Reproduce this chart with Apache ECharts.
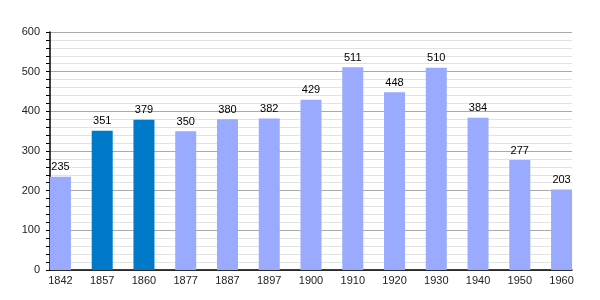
<!DOCTYPE html>
<html>
<head>
<meta charset="utf-8">
<script src="https://cdn.jsdelivr.net/npm/echarts@6/dist/echarts.min.js"></script>
<style>
  html, body { margin: 0; padding: 0; background: #fff; }
  #chart { width: 600px; height: 300px; }
</style>
</head>
<body>
<div id="chart"></div>
<script>
// population by census year
var years = ['1842', '1857', '1860', '1877', '1887', '1897', '1900', '1910', '1920', '1930', '1940', '1950', '1960'];
var population = [235, 351, 379, 350, 380, 382, 429, 511, 448, 510, 384, 277, 203];
// years drawn in the darker colour
var highlighted = ['1857', '1860'];
var yTicks = [0, 100, 200, 300, 400, 500, 600];

var LIGHT = '#99aaff';
var DARK = '#0079c9';

(function() {
    var myChart = echarts.init(document.getElementById('chart'));

    var barData = population.map(function(v, i) {
        return {
            value: [i, v],
            itemStyle: { color: highlighted.indexOf(years[i]) >= 0 ? DARK : LIGHT }
        };
    });

    var option = {
        animation: false,
        textStyle: { fontFamily: 'Liberation Sans' },
        grid: { left: 50, right: 28, top: 32, bottom: 30 },
        xAxis: {
            type: 'value',
            min: -0.25,
            max: years.length - 0.75,
            splitLine: { show: false },
            axisTick: { show: false },
            axisLine: { lineStyle: { color: '#000', width: 1.5 } },
            axisLabel: {
                customValues: years.map(function(y, i) { return i; }),
                formatter: function(v) { return years[Math.round(v)] || ''; },
                color: '#222',
                fontSize: 11,
                margin: 5
            }
        },
        yAxis: {
            type: 'value',
            min: yTicks[0],
            max: yTicks[yTicks.length - 1],
            interval: 100,
            axisLine: { show: true, onZero: false, lineStyle: { color: '#000', width: 1.5 } },
            axisTick: { show: true, length: 4, lineStyle: { color: '#000' } },
            minorTick: { show: true, splitNumber: 5, length: 4, lineStyle: { color: '#000' } },
            splitLine: { lineStyle: { color: '#aaa' } },
            minorSplitLine: { show: true, lineStyle: { color: '#e2e2e2' } },
            axisLabel: { color: '#222', fontSize: 11, margin: 10 }
        },
        series: [{
            type: 'bar',
            barWidth: 21,
            data: barData,
            label: {
                show: true,
                position: 'top',
                distance: 4,
                color: '#000',
                fontSize: 11,
                formatter: function(p) { return p.value[1]; }
            }
        }]
    };

    myChart.setOption(option);
    window.addEventListener('resize', function() {
        myChart.resize();
    });
})();
</script>
</body>
</html>
